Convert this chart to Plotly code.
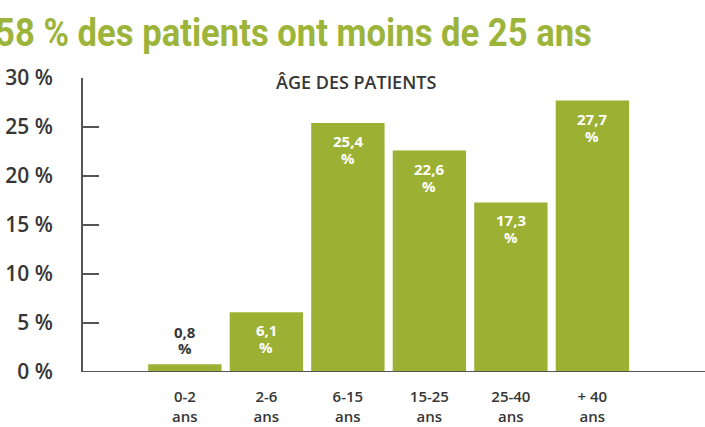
import plotly.graph_objects as go

categories = ["0-2<br>ans", "2-6<br>ans", "6-15<br>ans", "15-25<br>ans", "25-40<br>ans", "+ 40<br>ans"]
values = [0.8, 6.1, 25.4, 22.6, 17.3, 27.7]
value_labels = ["0,8", "6,1", "25,4", "22,6", "17,3", "27,7"]
y_ticks = [0, 5, 10, 15, 20, 25, 30]
y_tick_labels = ["0 %", "5 %", "10 %", "15 %", "20 %", "25 %", "30 %"]
title_text = "58 % des patients ont moins de 25 ans"

GREEN = "#9cb133"
DARK = "#363636"
FONT = "Open Sans"

xs = list(range(len(categories)))

W, H = 705, 427
ml, mr, mt, mb = 83, 0, 78, 55
pw, ph = W - ml - mr, H - mt - mb

fig = go.Figure()
fig.add_trace(go.Bar(
    x=xs, y=values, marker=dict(color=GREEN, line=dict(width=0)),
    hoverinfo="skip", showlegend=False,
))

annotations = []
for i, (v, lab) in enumerate(zip(values, value_labels)):
    inside = v > 3
    col = "white" if inside else DARK
    if inside:
        shifts = [(-6, lab, "top"), (-23, "%", "top")]
    else:
        shifts = [(20, lab, "bottom"), (4, "%", "bottom")]
    for ys, t, anc in shifts:
        annotations.append(dict(
            x=i, y=v, xref="x", yref="y", text=t, showarrow=False,
            yanchor=anc, yshift=ys,
            font=dict(family=FONT, size=15, color=col, weight=700),
        ))

def px_ann(x, y, text, font, xanchor="center"):
    return dict(
        x=(x - ml) / pw, y=1 - (y - mt) / ph, xref="paper", yref="paper",
        xanchor=xanchor, yanchor="middle", text=text, showarrow=False, font=font,
    )

annotations.append(px_ann(-7, 33, title_text,
                          dict(family="Roboto", size=38, color="#9db43a", weight=700),
                          xanchor="left"))
annotations.append(px_ann(356, 82, "ÂGE DES PATIENTS",
                          dict(family=FONT, size=18, color=DARK, weight=600)))

fig.update_layout(
    width=W, height=H,
    margin=dict(l=ml, r=mr, t=mt, b=mb, pad=0),
    paper_bgcolor="white", plot_bgcolor="white",
    bargap=0.1,
    annotations=annotations,
    xaxis=dict(
        range=[-1.25, -1.25 + pw / 81.5],
        tickmode="array", tickvals=xs, ticktext=categories,
        showgrid=False, zeroline=False, showline=False, ticks="",
        ticklabelstandoff=14,
        tickfont=dict(family=FONT, size=15, color=DARK, weight=600),
    ),
    yaxis=dict(
        range=[0, 30], tickmode="array", tickvals=y_ticks, ticktext=y_tick_labels,
        showgrid=False, zeroline=False, showline=True, linecolor="#555555", linewidth=2,
        ticks="inside", ticklen=16, tickcolor="#555555", tickwidth=2,
        ticklabelstandoff=24,
        tickfont=dict(family=FONT, size=21, color=DARK, weight=600),
    ),
)

fig.add_shape(type="line", xref="paper", yref="y", x0=0, x1=1, y0=0, y1=0,
              line=dict(color="#555555", width=2), layer="above")

post = """
document.body.style.margin='0';
var els = document.querySelectorAll('text.annotation-text');
els.forEach(function(t){
  if (t.textContent.indexOf('58 %') === 0) {
    var w = t.getComputedTextLength();
    var s = 597 / w;
    t.style.transformBox = 'fill-box';
    t.style.transformOrigin = 'left center';
    t.style.transform = 'scaleX(' + s + ')';
  }
});
"""

fig.write_html("out.html", config={"displayModeBar": False}, post_script=post)
